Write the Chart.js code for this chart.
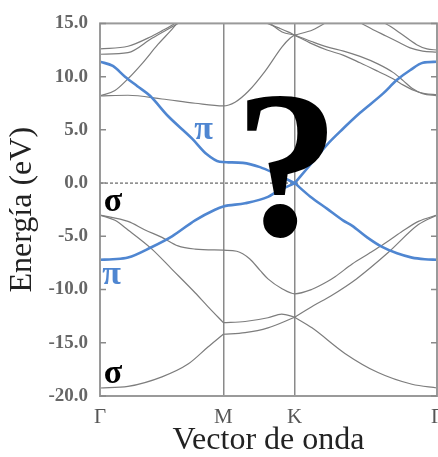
<!DOCTYPE html>
<html>
<head>
<meta charset="utf-8">
<script src="https://cdn.jsdelivr.net/npm/chart.js@4.4.1/dist/chart.umd.min.js"></script>
<style>
  html, body { margin: 0; padding: 0; background: #fff; }
  #wrap { width: 438px; height: 457px; }
</style>
</head>
<body>
<div id="wrap"><canvas id="bands" width="438" height="457"></canvas></div>
<script>
// path G-M-K-G, k = path length
var kTicks = [0, 0.577, 0.911, 1.577];
var kLabels = ['Γ', 'M', 'K', 'Γ'];
var energyTicks = [-20, -15, -10, -5, 0, 5, 10, 15];

// pi bands (blue), [k, E]
var piUpperGK = [[0, 11.4], [0.06, 11.0], [0.117, 10.0], [0.175, 9.1], [0.234, 8.2], [0.318, 6.3], [0.43, 4.2], [0.5, 2.7], [0.56, 2.0], [0.6, 1.95], [0.669, 1.9], [0.749, 1.5], [0.828, 0.8], [0.911, 0]];
var piUpperKG = [[0.911, 0], [0.983, 1.7], [1.062, 3.6], [1.137, 5.1], [1.217, 6.6], [1.324, 8.4], [1.39, 9.7], [1.451, 10.6], [1.511, 11.3], [1.577, 11.4]];
var piLowerGK = [[0, -7.2], [0.06, -7.15], [0.131, -7.0], [0.243, -6.0], [0.337, -5.0], [0.445, -3.5], [0.538, -2.5], [0.577, -2.2], [0.679, -1.9], [0.786, -1.3], [0.828, -0.8], [0.911, 0]];
var piLowerKG = [[0.911, 0], [0.983, -1.25], [1.062, -2.4], [1.137, -3.5], [1.179, -4.0], [1.25, -5.1], [1.32, -6.0], [1.39, -6.6], [1.46, -7.0], [1.52, -7.15], [1.577, -7.2]];

// sigma bands (grey)
var s1GM = [[0, -19.25], [0.131, -19.1], [0.29, -18.2], [0.412, -17.0], [0.505, -15.4], [0.577, -14.2]];
var s1MK = [[0.577, -14.2], [0.679, -14.05], [0.786, -13.6], [0.911, -12.6]];
var s1KG = [[0.911, -12.6], [0.992, -13.6], [1.146, -16.0], [1.301, -17.8], [1.46, -18.9], [1.577, -19.25]];
var s2GM = [[0, -3.0], [0.07, -3.5], [0.131, -4.4], [0.243, -6.2], [0.337, -8.1], [0.445, -10.3], [0.505, -11.6], [0.577, -13.1]];
var s2MK = [[0.577, -13.1], [0.679, -13.0], [0.786, -12.65], [0.85, -12.3], [0.911, -12.6]];
var s2KG = [[0.911, -12.6], [1.0, -11.5], [1.08, -10.6], [1.2, -9.0], [1.35, -6.5], [1.49, -3.9], [1.577, -3.0]];
var s3GM = [[0, -3.0], [0.131, -3.6], [0.211, -4.4], [0.29, -5.1], [0.365, -5.9], [0.445, -6.2], [0.577, -6.3]];
var s3MG = [[0.577, -6.3], [0.64, -6.4], [0.7, -7.1], [0.749, -8.2], [0.786, -9.0], [0.85, -9.9], [0.911, -10.4], [0.99, -10.0], [1.06, -9.3], [1.1, -8.8], [1.18, -7.6], [1.26, -6.6], [1.33, -5.7], [1.41, -4.6], [1.49, -3.6], [1.577, -3.0]];

// conduction bands (grey)
var c1 = [[0, 8.2], [0.131, 8.25], [0.29, 7.9], [0.445, 7.5], [0.577, 7.25], [0.632, 7.6], [0.693, 8.6], [0.772, 10.5], [0.852, 12.8], [0.889, 13.6], [0.911, 13.9]];
var c1K = [[0.911, 13.9], [0.997, 14.4], [1.076, 15.3], [1.11, 15.7]];
var c2 = [[0, 8.2], [0.07, 8.7], [0.131, 9.8], [0.2, 11.3], [0.27, 13.0], [0.33, 14.3], [0.36, 15.0], [0.39, 15.6]];
var c3 = [[0, 12.6], [0.131, 12.85], [0.243, 13.8], [0.29, 14.3], [0.351, 15.0], [0.38, 15.4]];
var c4 = [[0, 12.1], [0.131, 12.25], [0.243, 13.6], [0.365, 15.0], [0.39, 15.3]];
var c5 = [[0.75, 15.4], [0.772, 15.1], [0.833, 14.6], [0.88, 14.2], [0.911, 13.9]];
var c6 = [[0.77, 15.4], [0.796, 15.0], [0.852, 14.2], [0.911, 13.9]];
var c5KG = [[0.911, 13.9], [0.99, 13.3], [1.062, 12.8], [1.14, 12.4], [1.217, 11.9], [1.3, 11.2], [1.371, 10.4], [1.42, 9.6], [1.46, 8.9], [1.51, 8.4], [1.577, 8.2]];
var c6KG = [[0.911, 13.9], [0.99, 13.1], [1.062, 12.5], [1.14, 12.0], [1.217, 11.3], [1.3, 10.5], [1.371, 9.8], [1.42, 9.2], [1.47, 8.7], [1.52, 8.4], [1.577, 8.3]];
var c7 = [[1.19, 15.5], [1.201, 15.3], [1.27, 14.5], [1.341, 13.8], [1.4, 13.2], [1.451, 12.7], [1.51, 12.4], [1.577, 12.3]];
var c8 = [[1.29, 15.6], [1.31, 15.3], [1.36, 14.7], [1.404, 14.1], [1.482, 13.0], [1.53, 12.6], [1.577, 12.5]];

var zeroLine = [[0, 0], [1.577, 0]];

var blueBands = [piUpperGK, piUpperKG, piLowerGK, piLowerKG];
var greyBands = [s1GM, s1MK, s1KG, s2GM, s2MK, s2KG, s3GM, s3MG, c1, c1K, c2, c3, c4, c5, c6, c5KG, c6KG, c7, c8];

// band labels
var labelText = ['π', 'π', 'σ', 'σ'];
var labelK = [0.485, 0.054, 0.061, 0.061];
var labelE = [4.9, -8.7, -1.9, -18.0];
var labelColor = ['#4f86d1', '#4f86d1', '#000', '#000'];

var questionK = 0.875;
var questionE = -4.9;

var BLUE = '#4f86d1';
var GREY = '#7d7d7d';
var SERIF = 'Liberation Serif';

function makeLine(points, color, width) {
    return {
        data: points.map(function (p) { return { x: p[0], y: p[1] }; }),
        borderColor: color,
        borderWidth: width,
        pointRadius: 0,
        fill: false,
        cubicInterpolationMode: 'monotone'
    };
}

var datasets = [];
blueBands.forEach(function (b) { datasets.push(makeLine(b, BLUE, 2.6)); });
greyBands.forEach(function (b) { datasets.push(makeLine(b, GREY, 1.2)); });
var zero = makeLine(zeroLine, '#444', 1);
zero.borderDash = [3, 2];
datasets.push(zero);

var decorations = {
    id: 'decorations',
    afterDatasetsDraw: function (chart) {
        var ctx = chart.ctx, a = chart.chartArea;
        var xs = chart.scales.x, ys = chart.scales.y;
        ctx.save();

        // frame
        ctx.strokeStyle = '#9a9a9a';
        ctx.lineWidth = 2;
        ctx.strokeRect(a.left, a.top, a.right - a.left, a.bottom - a.top);

        // inward ticks on both sides
        ctx.lineWidth = 1.5;
        ctx.strokeStyle = '#8a8a8a';
        energyTicks.forEach(function (v) {
            var py = ys.getPixelForValue(v);
            ctx.beginPath();
            ctx.moveTo(a.left, py); ctx.lineTo(a.left + 6, py);
            ctx.moveTo(a.right, py); ctx.lineTo(a.right - 6, py);
            ctx.stroke();
        });

        // pi / sigma labels
        ctx.textAlign = 'center';
        ctx.textBaseline = 'alphabetic';
        ctx.font = 'bold 34px "' + SERIF + '"';
        for (var i = 0; i < labelText.length; i++) {
            ctx.fillStyle = labelColor[i];
            ctx.fillText(labelText[i], xs.getPixelForValue(labelK[i]), ys.getPixelForValue(labelE[i]) + 8);
        }

        // big question mark
        ctx.fillStyle = '#000';
        ctx.font = 'bold 210px "' + SERIF + '"';
        ctx.fillText('?', xs.getPixelForValue(questionK), ys.getPixelForValue(questionE));
        ctx.restore();
    }
};

var chart = new Chart(document.getElementById('bands'), {
    type: 'line',
    data: { datasets: datasets },
    plugins: [decorations],
    options: {
        responsive: false,
        animation: false,
        events: [],
        layout: { padding: { top: 15, right: 1, left: 0, bottom: 0 } },
        plugins: { legend: { display: false }, tooltip: { enabled: false } },
        scales: {
            x: {
                type: 'linear',
                min: 0,
                max: 1.577,
                afterBuildTicks: function (s) { s.ticks = kTicks.map(function (v) { return { value: v }; }); },
                afterFit: function (s) { s.height = 61; s.paddingLeft = 0; s.paddingRight = 0; },
                ticks: {
                    callback: function (v, i) { return kLabels[i]; },
                    font: { family: SERIF, size: 21 },
                    color: '#555',
                    padding: 9,
                    maxRotation: 0,
                    autoSkip: false
                },
                grid: {
                    drawTicks: false,
                    lineWidth: 1.5,
                    color: function (c) { return (c.index === 1 || c.index === 2) ? '#8a8a8a' : 'rgba(0,0,0,0)'; }
                },
                border: { display: false },
                title: {
                    display: true,
                    text: 'Vector de onda',
                    color: '#222',
                    font: { family: SERIF, size: 32, lineHeight: 1 },
                    padding: { top: 0, bottom: 0 }
                }
            },
            y: {
                min: -20,
                max: 15,
                afterBuildTicks: function (s) { s.ticks = energyTicks.map(function (v) { return { value: v }; }); },
                afterFit: function (s) { s.width = 100; },
                ticks: {
                    callback: function (v) { return v.toFixed(1); },
                    font: { family: SERIF, size: 19, weight: 'bold' },
                    color: '#666',
                    padding: 12
                },
                grid: { display: false, drawTicks: false },
                border: { display: false },
                title: {
                    display: true,
                    text: 'Energía (eV)',
                    color: '#222',
                    font: { family: SERIF, size: 32, lineHeight: 1 },
                    padding: { top: 7, bottom: 0 }
                }
            }
        }
    }
});
</script>
</body>
</html>
